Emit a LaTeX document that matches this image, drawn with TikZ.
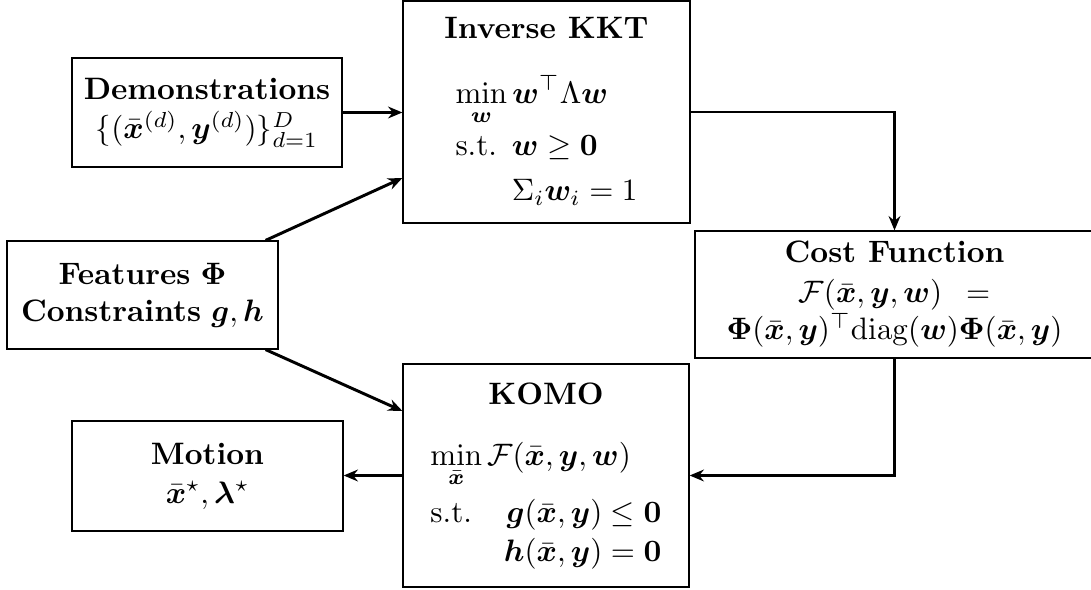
\documentclass[tikz,border=0pt]{standalone}
\usepackage{amsmath,amssymb,bm}
\usetikzlibrary{arrows.meta,calc}
\begin{document}
\begin{tikzpicture}[x=0.3226pt,y=-0.3226pt,
  box/.style={draw,rectangle,inner sep=0pt,align=center},
  arr/.style={line width=0.95pt,-{Stealth[length=4.6pt,width=3.8pt]}}]
\useasboundingbox (0,0) rectangle (1091,590);

\node[box,minimum width=270*0.3226pt,minimum height=109*0.3226pt] (demo) at (207,112.5)
  {\textbf{Demonstrations}\\[0.6pt] $\{(\bar{\bm x}^{(d)},\bm y^{(d)})\}_{d=1}^{D}$};

\node[box,minimum width=287*0.3226pt,minimum height=222*0.3226pt] (kkt) at (546.5,112)
  {\begin{tabular}{@{}l@{\hspace{4.8pt}}l@{}}
   \multicolumn{2}{c}{\makebox[0pt]{\textbf{Inverse KKT}}}\\[8.6pt]
   \multicolumn{2}{@{}l@{}}{$\displaystyle\min_{\bm w}\bm w^\top\Lambda\bm w$}\\[4.8pt]
   s.t. & $\bm w\geq\mathbf 0$\\[2.5pt]
        & $\Sigma_i\bm w_i=1$
   \end{tabular}};

\node[box,minimum width=271*0.3226pt,minimum height=108*0.3226pt] (feat) at (142.5,295)
  {\textbf{Features} $\bm\Phi$\\ \textbf{Constraints} $\bm g,\bm h$};

\node[box,minimum width=399*0.3226pt,minimum height=127*0.3226pt] (cost) at (894.5,294.5)
  {\textbf{Cost Function}\\[0.8pt]
   $\mathcal F(\bar{\bm x},\bm y,\bm w)\hspace{5pt}=$\\
   $\bm\Phi(\bar{\bm x},\bm y)^\top\mathrm{diag}(\bm w)\bm\Phi(\bar{\bm x},\bm y)$};

\node[box,minimum width=286*0.3226pt,minimum height=223*0.3226pt] (komo) at (546,475.5)
  {\begin{tabular}{@{}l@{\hspace{10.3pt}}r@{}}
   \multicolumn{2}{c}{\makebox[0pt]{\textbf{KOMO}}}\\[7.7pt]
   \multicolumn{2}{@{}l@{}}{$\displaystyle\min_{\bar{\bm x}}\mathcal F(\bar{\bm x},\bm y,\bm w)$}\\[6.4pt]
   s.t. & $\bm g(\bar{\bm x},\bm y)\leq\mathbf 0$\\[0.6pt]
        & $\bm h(\bar{\bm x},\bm y)=\mathbf 0$
   \end{tabular}};

\node[box,minimum width=271*0.3226pt,minimum height=110*0.3226pt] (motion) at (207.5,476)
  {\textbf{Motion}\\[0.6pt] $\bar{\bm x}^\star,\bm\lambda^\star$};

\draw[arr] (demo.east) -- (demo.east -| kkt.west);
\draw[arr] ($(feat.north east)+(-13,0)$) -- ($(kkt.west)+(0,66)$);
\draw[arr] ($(feat.south east)+(-13,0)$) -- ($(komo.west)+(0,-64.5)$);
\draw[arr] (kkt.east) -| (cost.north);
\draw[arr] (cost.south) |- (komo.east);
\draw[arr] (komo.west) -- (komo.west -| motion.east);
\end{tikzpicture}
\end{document}
